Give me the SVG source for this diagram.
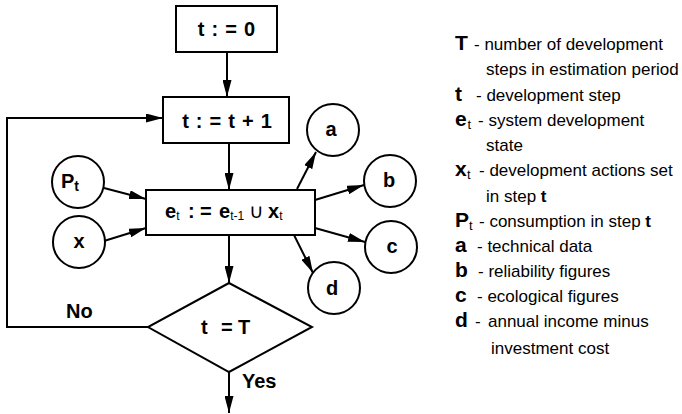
<svg xmlns="http://www.w3.org/2000/svg" width="682" height="414" viewBox="0 0 682 414">
  <style>
    .shape { fill: #fff; stroke: #000; stroke-width: 2; }
    .line { fill: none; stroke: #000; stroke-width: 2; }
    .lbl { font-family: "Liberation Sans", Arial, sans-serif; font-weight: bold; font-size: 20px; fill: #000; }
    .sp { word-spacing: 1.5px; }
    .key { font-family: "Liberation Sans", Arial, sans-serif; font-weight: bold; font-size: 21px; fill: #000; }
    .desc { font-family: "Liberation Sans", Arial, sans-serif; font-size: 17px; fill: #000; }
    .ksub { font-family: "Liberation Sans", Arial, sans-serif; font-size: 13px; fill: #000; }
    .sub { font-size: 12px; font-weight: normal; }
  </style>
  <defs>
    <marker id="arrow" markerUnits="userSpaceOnUse" markerWidth="18" markerHeight="9" refX="17" refY="4.5" orient="auto">
      <path d="M0,0 L17,4.5 L0,9 Z" fill="#000"/>
    </marker>
  </defs>

  <!-- connectors -->
  <g id="connectors" class="line" marker-end="url(#arrow)">
    <line x1="227" y1="52" x2="227" y2="97"/>
    <line x1="229" y1="143" x2="229" y2="190"/>
    <line x1="229" y1="235" x2="229" y2="283"/>
    <line x1="229" y1="372" x2="229" y2="413"/>
    <polyline points="148,327 7,327 7,118 163,118"/>
    <line x1="104" y1="188" x2="146" y2="199"/>
    <line x1="104" y1="241" x2="146" y2="228"/>
    <line x1="297" y1="189" x2="316" y2="152"/>
    <line x1="315" y1="200" x2="364" y2="185"/>
    <line x1="315" y1="228" x2="365" y2="242"/>
    <line x1="294" y1="235" x2="313" y2="273"/>
  </g>

  <g id="init">
    <rect class="shape" x="176" y="6" width="101" height="46"/>
    <text class="lbl sp" x="226.5" y="36" text-anchor="middle">t : = 0</text>
  </g>

  <g id="step">
    <rect class="shape" x="163" y="97" width="126" height="46"/>
    <text class="lbl sp" x="227" y="128" text-anchor="middle">t : = t + 1</text>
  </g>

  <g id="update">
    <rect class="shape" x="146" y="190" width="169" height="45"/>
    <text class="lbl" y="218"><tspan x="165">e</tspan><tspan class="sub" dy="2">t</tspan><tspan x="188" dy="-2">:</tspan><tspan x="200">=</tspan><tspan x="219">e</tspan><tspan class="sub" dy="2">t-1</tspan><tspan x="249" dy="-2" font-weight="normal">∪</tspan><tspan x="268">x</tspan><tspan class="sub" dy="2">t</tspan></text>
  </g>

  <g id="check">
    <polygon class="shape" points="229,283 312,327 229,372 148,327"/>
    <text class="lbl" y="334"><tspan x="201">t</tspan><tspan x="221">=</tspan><tspan x="238">T</tspan></text>
  </g>

  <g id="in-p">
    <circle class="shape" cx="78" cy="182" r="26"/>
    <text class="lbl" x="61" y="188">P<tspan font-size="14" dy="3">t</tspan></text>
  </g>
  <g id="in-x">
    <circle class="shape" cx="79" cy="242" r="26"/>
    <text class="lbl" x="79" y="248" text-anchor="middle">x</text>
  </g>
  <g id="out-a">
    <circle class="shape" cx="333" cy="130" r="26"/>
    <text class="lbl" x="331" y="136" text-anchor="middle">a</text>
  </g>
  <g id="out-b">
    <circle class="shape" cx="390" cy="181" r="26"/>
    <text class="lbl" x="389" y="187" text-anchor="middle">b</text>
  </g>
  <g id="out-c">
    <circle class="shape" cx="391" cy="247" r="26"/>
    <text class="lbl" x="392" y="253" text-anchor="middle">c</text>
  </g>
  <g id="out-d">
    <circle class="shape" cx="334" cy="288" r="26"/>
    <text class="lbl" x="332" y="295" text-anchor="middle">d</text>
  </g>

  <g id="branch-labels">
    <text class="lbl" x="66" y="318">No</text>
    <text class="lbl" x="242" y="388">Yes</text>
  </g>

  <!-- legend -->
  <g id="legend">
    <text class="key" x="455" y="50">T</text>
    <text class="desc" x="474" y="50">- number of development</text>
    <text class="desc" x="486" y="75">steps in estimation period</text>

    <text class="key" x="455" y="101">t</text>
    <text class="desc" x="476" y="101">- development step</text>

    <text class="key" x="455" y="126">e</text>
    <text class="ksub" x="467.5" y="129">t</text>
    <text class="desc" x="478" y="126">- system development</text>
    <text class="desc" x="486" y="151">state</text>

    <text class="key" x="455" y="176">x</text>
    <text class="ksub" x="467" y="179">t</text>
    <text class="desc" x="479" y="176">- development actions set</text>
    <text class="desc" x="486" y="202">in step <tspan font-weight="bold">t</tspan></text>

    <text class="key" x="455" y="227">P</text>
    <text class="ksub" x="469" y="230">t</text>
    <text class="desc" x="479" y="227">- consumption in step <tspan font-weight="bold">t</tspan></text>

    <text class="key" x="455" y="252">a</text>
    <text class="desc" x="477" y="252">- technical data</text>

    <text class="key" x="455" y="277">b</text>
    <text class="desc" x="478" y="277">- reliability figures</text>

    <text class="key" x="455" y="302">c</text>
    <text class="desc" x="477" y="302">- ecological figures</text>

    <text class="key" x="455" y="327">d</text>
    <text class="desc" x="475" y="327">-</text>
    <text class="desc" x="488" y="327">annual income minus</text>
    <text class="desc" x="491" y="354">investment cost</text>
  </g>
</svg>
